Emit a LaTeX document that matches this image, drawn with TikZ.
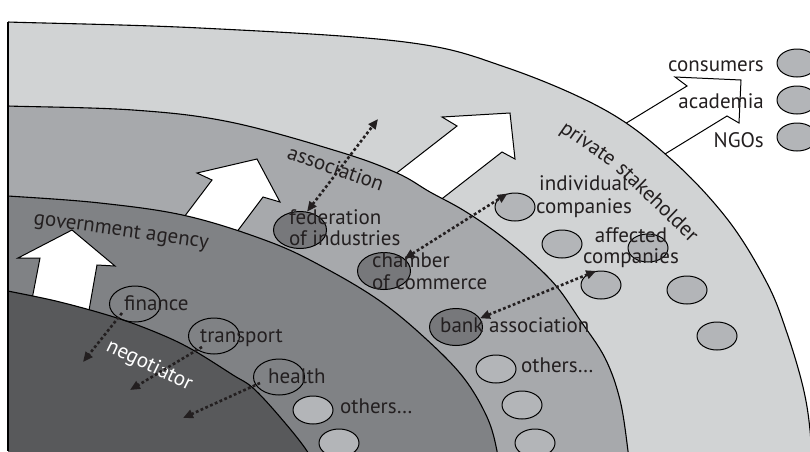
\documentclass[tikz,border=0pt]{standalone}
\usepackage{fontspec}
\setmainfont{PT Sans}
\usetikzlibrary{arrows.meta, shapes.geometric}

\definecolor{ringPrivate}{HTML}{D1D3D4}
\definecolor{ringAssoc}{HTML}{A7A9AC}
\definecolor{ringGov}{HTML}{808285}
\definecolor{ringCore}{HTML}{58595B}
\definecolor{blobLight}{HTML}{B3B5B8}
\definecolor{blobDark}{HTML}{77787B}
\definecolor{ink}{HTML}{231F20}

\newcommand\labelfont{\fontsize{21}{22}\selectfont}

\tikzset{
  ring/.style={draw=black, line width=1.1pt},
  blockarrow/.style={draw=black, fill=white, line width=1pt, line join=miter},
  blob/.style={ellipse, draw=black, line width=1pt, inner sep=0pt,
    minimum width=40pt, minimum height=28pt},
  lightblob/.style={blob, fill=blobLight},
  darkblob/.style={blob, fill=blobDark, minimum width=53pt, minimum height=37pt},
  openblob/.style={blob, minimum width=51pt, minimum height=36pt},
  lbl/.style={inner sep=0pt, text=ink, font=\labelfont, anchor=base west},
  rlbl/.style={lbl, anchor=base east},
  clbl/.style={lbl, anchor=base},
  dotline/.style={draw=ink, line width=2.6pt, dash pattern=on 2.8pt off 2.4pt},
  link/.style={dotline, {Triangle[length=10pt,width=8.5pt]}-{Triangle[length=10pt,width=8.5pt]}},
  push/.style={dotline, -{Triangle[length=10pt,width=8.5pt]}},
}

\begin{document}
\begin{tikzpicture}[x=1pt,y=-1pt]
\useasboundingbox (0,0) rectangle (810,451);

% outward arrow: its base is hidden by the outer ring
\draw[blockarrow] (592,144) -- (687,86) -- (675,77) -- (741,80) -- (739,123) -- (727,116) -- (634,173) -- cycle;

\begin{scope}
  \clip (8,0) rectangle (820,460);
  % private stakeholder ring
  \filldraw[ring, fill=ringPrivate] plot[smooth, tension=0.6] coordinates {
    (0,21) (8,22) (200,28) (405,42) (505,67) (605,110) (672,160) (728,220)
    (767,283) (787,333) (803,387) (810,430) (812,475)} -- (820,490) -- (0,490) -- cycle;
  \draw[blockarrow] (385,182) -- (457,126) -- (442,117) -- (510,113) -- (515,159) -- (502,152) -- (425,212) -- cycle;
  % association ring
  \filldraw[ring, fill=ringAssoc] plot[smooth, tension=0.6] coordinates {
    (0,105) (8,106) (133,110) (230,122) (340,152) (397,173) (430,192) (463,210)
    (497,233) (530,260) (557,287) (580,320) (605,358) (620,400) (628,451) (630,475)}
    -- (820,490) -- (0,490) -- cycle;
  \draw[blockarrow] (172,233) -- (212,180) -- (197,173) -- (257,159) -- (280,202) -- (263,197) -- (227,245) -- cycle;
  % government agency ring
  \filldraw[ring, fill=ringGov] plot[smooth, tension=0.6] coordinates {
    (0,196) (8,196) (100,203) (187,216) (270,242) (325,268) (380,301) (425,338)
    (463,377) (487,417) (497,451) (499,475)} -- (820,490) -- (0,490) -- cycle;
  \draw[blockarrow] (28,320) -- (40,258) -- (18,258) -- (72,230) -- (115,266) -- (97,265) -- (85,333) -- cycle;
  % negotiator core
  \filldraw[ring, fill=ringCore] plot[smooth, tension=0.6] coordinates {
    (0,289) (8,291) (60,302) (117,318) (160,334) (193,350) (233,375) (253,388)
    (280,417) (307,451) (318,475)} -- (820,490) -- (0,490) -- cycle;
\end{scope}
\draw[ring] (8,22) -- (8,451);

% ring labels, set word by word along the arcs
\node[lbl, rotate=-35] (tpriv1) at (559,131) {private};
\node[lbl, rotate=-44] (tpriv2) at (615,170) {stakeholder};
\node[lbl, rotate=-19.5] (tassoc) at (286,158) {association};
\node[lbl, rotate=-8] (tgov) at (33,224) {government agency};
\node[lbl, rotate=-26, text=white] (tneg) at (105,350) {negotiator};

% private stakeholders
\node[lightblob] (indiv) at (515,207) {};
\node[lightblob] (p2) at (562,244) {};
\node[lightblob] (p3) at (648,248) {};
\node[lightblob] (p4) at (601,285) {};
\node[lightblob] (p5) at (687,290) {};
\node[lightblob] (p6) at (717,336) {};
\node[lightblob] (cons) at (797,63) {};
\node[lightblob] (acad) at (797,100) {};
\node[lightblob] (ngo) at (797,137) {};

% associations
\node[darkblob] (fed) at (300,230) {};
\node[darkblob] (cham) at (384,271) {};
\node[darkblob] (bank) at (456,327) {};
\node[lightblob] (a1) at (496,369) {};
\node[lightblob] (a2) at (522,405) {};
\node[lightblob] (a3) at (535,443) {};

% government agencies
\node[openblob] (fin) at (135,304) {};
\node[openblob] (trans) at (214,336) {};
\node[openblob] (heal) at (279,377) {};
\node[lightblob] (g1) at (313,410) {};
\node[lightblob] (g2) at (339,443) {};

% texts
\node[rlbl] (tcons) at (764,71) {consumers};
\node[rlbl] (tacad) at (764,108) {academia};
\node[rlbl] (tngo) at (764,147) {NGOs};
\node[lbl] (tind1) at (539,190) {individual};
\node[lbl] (tind2) at (536,213) {companies};
\node[clbl] (taff1) at (631,242) {affected};
\node[clbl] (taff2) at (631,263) {companies};
\node[lbl] (tfed1) at (289,224) {federation};
\node[lbl] (tfed2) at (289,245) {of industries};
\node[lbl] (tcham1) at (372,267) {chamber};
\node[lbl] (tcham2) at (372,289) {of commerce};
\node[lbl] (tbank) at (440,332) {bank association};
\node[lbl] (tao) at (521,372) {others…};
\node[lbl] (tgo) at (340,413) {others…};
\node[lbl] (tfin) at (124,310) {finance};
\node[lbl] (ttrans) at (200,342) {transport};
\node[lbl] (theal) at (268,383) {health};

% exchanges between the layers
\coordinate (fedOut) at (378,119);
\draw[link] (fed.69) -- (fedOut);
\draw[link] (cham.31) -- (indiv.119);
\draw[link] (bank.20) -- (p4.109);

\coordinate (finA) at (122,313);
\coordinate (finB) at (83,362);
\coordinate (transA) at (202,347);
\coordinate (transB) at (130,390);
\coordinate (healA) at (260,383);
\coordinate (healB) at (183,418);
\draw[push] (finA) -- (finB);
\draw[push] (transA) -- (transB);
\draw[push] (healA) -- (healB);
\end{tikzpicture}
\end{document}
